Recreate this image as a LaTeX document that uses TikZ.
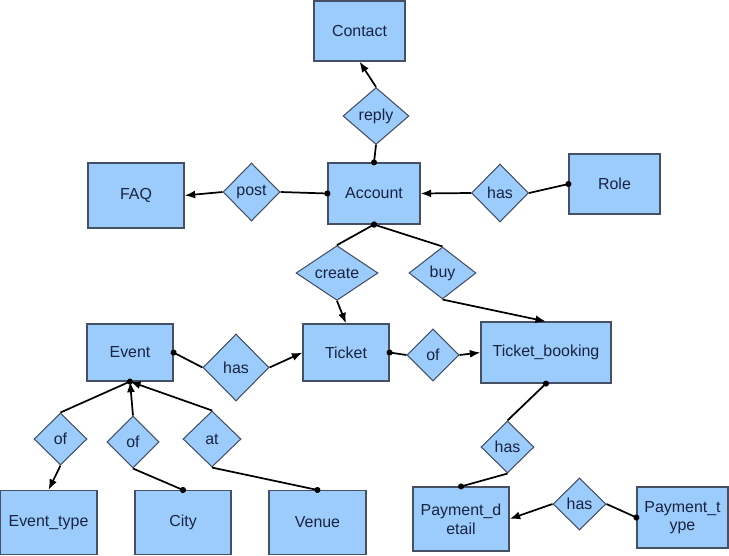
\documentclass[tikz,border=0pt]{standalone}
\usepackage{fontspec}
\setmainfont{Liberation Sans}
\usetikzlibrary{shapes.geometric, arrows.meta}
\definecolor{erfill}{RGB}{155,204,252}
\definecolor{erdraw}{RGB}{70,80,100}
\definecolor{ertext}{RGB}{25,35,65}

\begin{document}
\begin{tikzpicture}[x=0.02646cm, y=-0.02646cm, line width=1.3pt,
    font=\fontsize{12}{14}\selectfont,
    entity/.style 2 args={rectangle, draw=erdraw, line width=0.8pt, fill=erfill,
        text=ertext, align=center, inner sep=0pt,
        minimum width=#1*0.7528pt, minimum height=#2*0.7528pt},
    rel/.style 2 args={diamond, draw=erdraw, line width=0.8pt, fill=erfill,
        text=ertext, inner sep=0pt, aspect=1,
        minimum width=#1*0.7528pt, minimum height=#2*0.7528pt},
    from/.style={{Circle[length=4.5pt]}-, shorten <=-2.2pt},
    to/.style={-{Latex[length=8pt, width=6pt]}}]
    \useasboundingbox (0,0) rectangle (729,555);

    % entities
    \node[entity={91}{60}] (contact) at (359.5,31) {Contact};
    \node[entity={92}{61}] (acc) at (374,193.5) {Account};
    \node[entity={96}{65}] (faq) at (136,195.5) {FAQ};
    \node[entity={91}{60}] (role) at (614.5,184) {Role};
    \node[entity={86}{57}] (ev) at (130,352.5) {Event};
    \node[entity={86}{57}] (tk) at (346,352.5) {Ticket};
    \node[entity={130}{61}] (tb) at (546,352.5) {Ticket\_booking};
    \node[entity={97}{64}] (et) at (48.5,522.5) {Event\_type};
    \node[entity={96}{64}] (city) at (183,522.5) {City};
    \node[entity={97}{64}] (venue) at (317.5,522.5) {Venue};
    \node[entity={96}{64}] (pd) at (461,519) {Payment\_d\\etail};
    \node[entity={91}{61}] (pt) at (682.5,517.5) {Payment\_t\\ype};

    % relationships
    \node[rel={66}{57}] (reply) at (376,116) {reply};
    \node[rel={57}{58}] (post) at (251.5,192) {post};
    \node[rel={57}{58}] (hasrole) at (500,193) {has};
    \node[rel={82}{52}] (create) at (337,273) {create};
    \node[rel={67}{52}] (buy) at (442.5,273) {buy};
    \node[rel={66}{67}] (hasev) at (236,367.5) {has};
    \node[rel={52}{52}] (oftk) at (433,355) {of};
    \node[rel={53}{52}] (ofet) at (60.5,439) {of};
    \node[rel={52}{52}] (ofcity) at (133,442) {of};
    \node[rel={58}{56}] (at) at (212,439) {at};
    \node[rel={53}{52}] (haspd) at (507.5,447) {has};
    \node[rel={53}{52}] (haspt) at (579.5,504) {has};

    \path[from]
    (acc.north) edge (reply.south)
    (acc.west) edge (post.east)
    (role.west) edge (hasrole.east)
    (acc.south) edge (create.north)
    (acc.south) edge (buy.north)
    (ev.east) edge (hasev.west)
    (tk.east) edge (oftk.west)
    (ev.south) edge (ofet.north)
    (city.north) edge (ofcity.south)
    (venue.north) edge (at.south)
    (tb.south) edge (haspd.north)
    (pd.north) edge (haspd.south)
    (pt.west) edge (haspt.east);

    \path[to]
    (reply.north) edge (contact.south)
    (post.west) edge (faq.east)
    (hasrole.west) edge (acc.east)
    (create.south) edge (tk.north)
    (buy.south) edge (tb.north)
    (hasev.east) edge (tk.west)
    (oftk.east) edge (tb.west)
    (ofet.south) edge (et.north)
    (ofcity.north) edge (ev.south)
    (at.north) edge (ev.south)
    (haspt.west) edge (pd.east);
\end{tikzpicture}
\end{document}
